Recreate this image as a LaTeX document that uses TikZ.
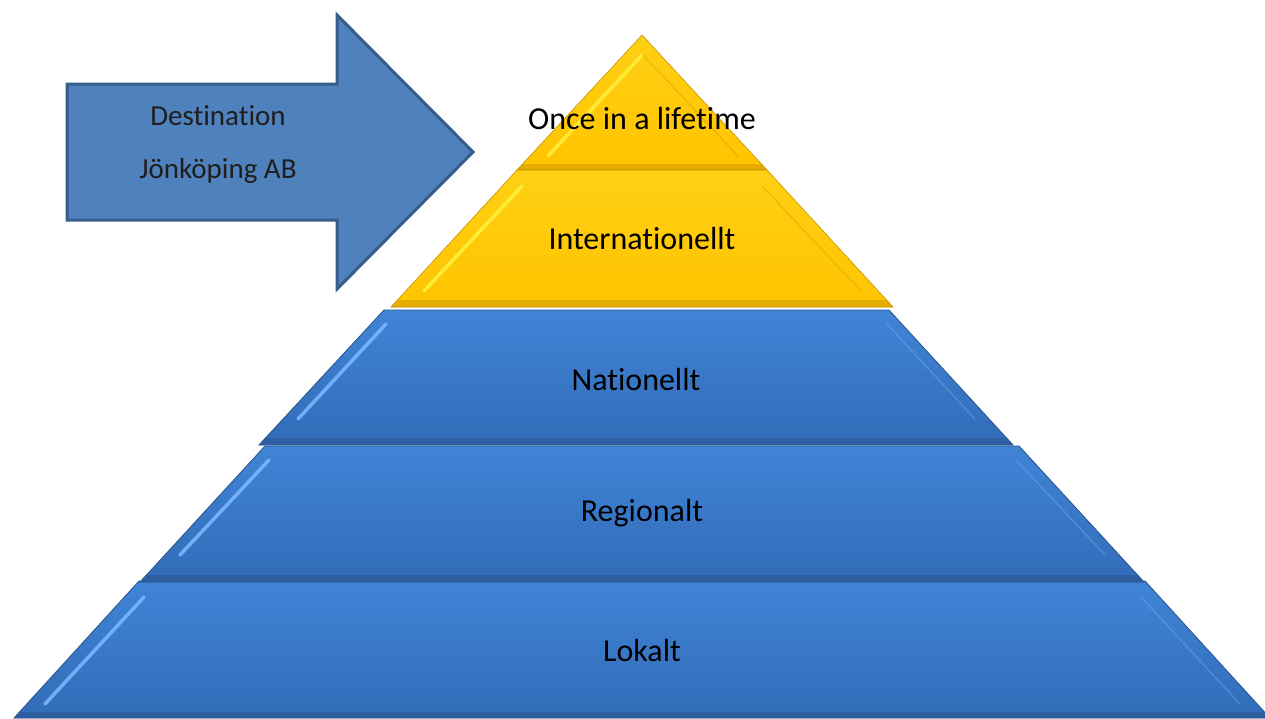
\documentclass[tikz,border=0pt]{standalone}
\usepackage{fontspec}
\setmainfont{Carlito}[Ligatures={NoCommon,NoContextual}]
\definecolor{ylwtop}{RGB}{255,208,20}
\definecolor{ylwbot}{RGB}{255,196,0}
\definecolor{ylwedge}{RGB}{196,146,0}
\definecolor{ylwhi}{RGB}{255,240,60}
\definecolor{blutop}{RGB}{64,132,214}
\definecolor{blubot}{RGB}{50,108,184}
\definecolor{bluband}{RGB}{44,92,156}
\definecolor{bluedge}{RGB}{40,84,140}
\definecolor{bluhi}{RGB}{120,182,255}
\definecolor{arrfill}{RGB}{79,129,189}
\definecolor{arredge}{RGB}{56,93,138}
\definecolor{arrtext}{RGB}{30,30,30}
\tikzset{
  lbl/.style={font=\fontsize{32}{36}\selectfont, text=black, inner sep=0pt},
  arrlbl/.style={font=\fontsize{29}{53}\selectfont, text=arrtext, align=center, inner sep=0pt},
  ylayer/.style={top color=ylwtop, bottom color=ylwbot, draw=ylwedge, line width=0.6pt},
  blayer/.style={top color=blutop, bottom color=blubot, draw=bluedge, line width=0.8pt},
  yhi/.style={ylwhi, line width=3.5pt, line cap=round, opacity=0.9},
  bhi/.style={bluhi, line width=3.5pt, line cap=round, opacity=0.9},
  bhr/.style={bluhi, line width=1.5pt, opacity=0.35},
  yhr/.style={ylwedge, line width=1.2pt, opacity=0.35},
  yband/.style={fill=ylwedge, opacity=0.45},
  bband/.style={fill=bluband, opacity=0.8},
}
\begin{document}
\begin{tikzpicture}[x=1pt,y=-1pt]
\useasboundingbox (0,0) rectangle (1265,718);
\clip (0,0) rectangle (1265,718);
% ---------- arrow ----------
\filldraw[fill=arrfill, draw=arredge, line width=3pt, line join=miter]
  (67,84) -- (337,84) -- (337,15) -- (473,152) -- (337,289) -- (337,220) -- (67,220) -- cycle;
\node[arrlbl] (dest) at (218,145) {Destination\\Jönköping AB};
% ---------- top triangle ----------
\path[ylayer] (642,35) -- (767,170) -- (517,170) -- cycle;
\fill[yband] (522,164) -- (762,164) -- (767,170) -- (517,170) -- cycle;
\draw[yhi] (642,55) -- (548,156);
\draw[yhr] (643,55) -- (738,156);
\node[lbl] (once) at (642,119) {Once in a lifetime};
% ---------- Internationellt ----------
\path[ylayer] (517,170) -- (767,170) -- (893,307) -- (391,307) -- cycle;
\fill[yband] (397,300) -- (887,300) -- (893,307) -- (391,307) -- cycle;
\draw[yhi] (522,186) -- (424,291);
\draw[yhr] (762,186) -- (861,291);
\node[lbl] (intl) at (642,239) {Internationellt};
% ---------- Nationellt ----------
\path[blayer] (384,310) -- (889,310) -- (1013,445) -- (259,445) -- cycle;
\fill[bband] (265,438) -- (1007,438) -- (1013,445) -- (259,445) -- cycle;
\draw[bhi] (386,324) -- (298,419);
\draw[bhr] (887,324) -- (975,419);
\node[lbl] (nat) at (636,380) {Nationellt};
% ---------- Lokalt ----------
\path[blayer] (139,581) -- (1145,581) -- (1270,718) -- (14,718) -- cycle;
\fill[bband] (20,712) -- (1264,712) -- (1270,718) -- (14,718) -- cycle;
\draw[bhi] (144,597) -- (45,704);
\draw[bhr] (1141,597) -- (1240,704);
\node[lbl] (lok) at (642,650) {Lokalt};
% ---------- Regionalt ----------
\path[blayer] (265,446) -- (1019,446) -- (1144,582) -- (140,582) -- cycle;
\fill[bband] (146,575) -- (1138,575) -- (1144,582) -- (140,582) -- cycle;
\draw[bhi] (269,460) -- (180,555);
\draw[bhr] (1016,460) -- (1105,555);
\node[lbl] (reg) at (642,513) {Regionalt};
\end{tikzpicture}
\end{document}
